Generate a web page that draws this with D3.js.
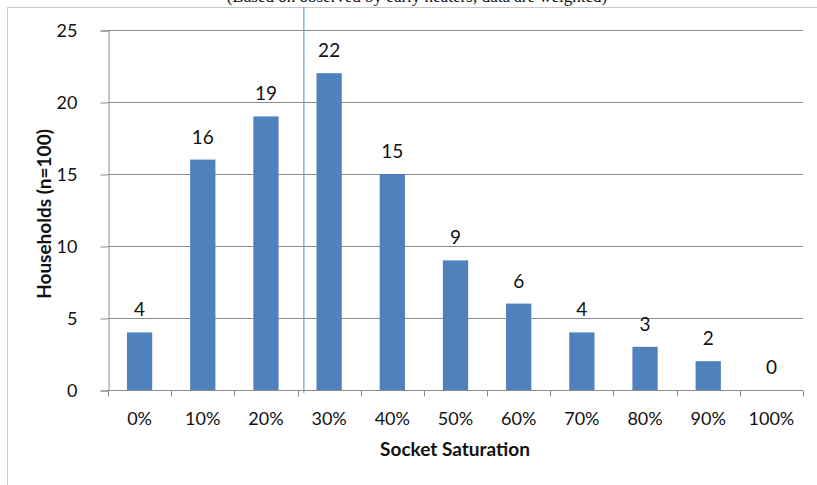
<!DOCTYPE html>
<html>
<head>
<meta charset="utf-8">
<script src="https://cdn.jsdelivr.net/npm/d3@7"></script>
<style>
  html, body { margin: 0; padding: 0; background: #fff; }
  svg { display: block; }
</style>
</head>
<body>
<svg id="chart" width="817" height="485"></svg>
<script>
// Socket saturation distribution across surveyed households
const categories = ["0%", "10%", "20%", "30%", "40%", "50%", "60%", "70%", "80%", "90%", "100%"];
const households = [4, 16, 19, 22, 15, 9, 6, 4, 3, 2, 0];
const yTicks = [0, 5, 10, 15, 20, 25];
const subtitle = "(Based on observed by early heaters; data are weighted)";
const xTitle = "Socket Saturation";
const yTitle = "Households (n=100)";
const markerAfter = "20%"; // vertical divider sits just past the 20% band

const svg = d3.select("#chart");
const plotL = 108, plotR = 803, plotT = 30, plotB = 390;
const labelFont = "Lato, 'Open Sans', sans-serif";

// Chart frame (extends past the visible area on the right and bottom)
svg.append("rect")
  .attr("x", 7.5).attr("y", 7.5)
  .attr("width", 830).attr("height", 500)
  .attr("fill", "none").attr("stroke", "#c9c9c9").attr("stroke-width", 1);

// Subtitle, mostly clipped above the frame
svg.append("text")
  .attr("x", 417).attr("y", 2)
  .attr("text-anchor", "middle")
  .attr("font-family", "'Liberation Serif', serif")
  .attr("font-size", 17)
  .attr("fill", "#111")
  .text(subtitle);

const x = d3.scaleBand().domain(categories).range([plotL, plotR]).padding(0);
const y = d3.scaleLinear().domain([0, 25]).range([plotB, plotT]);

// Horizontal gridlines
svg.append("g").selectAll("line")
  .data(yTicks.filter(d => d > 0))
  .join("line")
  .attr("x1", plotL).attr("x2", plotR)
  .attr("y1", d => Math.round(y(d)) + 0.5).attr("y2", d => Math.round(y(d)) + 0.5)
  .attr("stroke", "#8c8c8c").attr("stroke-width", 1);

// Y axis
const yAxis = svg.append("g")
  .attr("transform", `translate(${plotL + 0.5},0.5)`)
  .call(d3.axisLeft(y).tickValues(yTicks).tickSize(8).tickPadding(23));
yAxis.select(".domain").attr("stroke", "#8c8c8c");
yAxis.selectAll(".tick line").attr("stroke", "#8c8c8c");
yAxis.selectAll(".tick text")
  .attr("font-family", labelFont).attr("font-size", 18).attr("fill", "#111");

// Bars
const barW = x.bandwidth() * 0.4;
svg.append("g").selectAll("rect")
  .data(categories.map((c, i) => ({ c, v: households[i] })))
  .join("rect")
  .attr("x", d => x(d.c) + (x.bandwidth() - barW) / 2)
  .attr("y", d => y(d.v))
  .attr("width", barW)
  .attr("height", d => plotB - y(d.v))
  .attr("fill", "#4f81bd");

// X axis with ticks on band boundaries
const xg = svg.append("g").attr("transform", `translate(0,${plotB + 0.5})`);
xg.append("line")
  .attr("x1", plotL).attr("x2", plotR)
  .attr("stroke", "#8c8c8c");
xg.selectAll("line.tick")
  .data(categories.map(c => x(c)).concat([plotR]))
  .join("line")
  .attr("class", "tick")
  .attr("x1", d => Math.round(d) + 0.5).attr("x2", d => Math.round(d) + 0.5)
  .attr("y1", 0).attr("y2", 6)
  .attr("stroke", "#8c8c8c");
xg.selectAll("text")
  .data(categories)
  .join("text")
  .attr("x", d => x(d) + x.bandwidth() / 2)
  .attr("y", 34)
  .attr("text-anchor", "middle")
  .attr("font-family", labelFont).attr("font-size", 18).attr("fill", "#111")
  .text(d => d);

// Value labels
svg.append("g").selectAll("text")
  .data(categories.map((c, i) => ({ c, v: households[i] })))
  .join("text")
  .attr("x", d => x(d.c) + x.bandwidth() / 2)
  .attr("y", d => y(d.v) - 16)
  .attr("text-anchor", "middle")
  .attr("font-family", labelFont).attr("font-size", 19).attr("fill", "#111")
  .text(d => d.v);

// Vertical divider line
const divX = x(markerAfter) + x.bandwidth() * 1.1;
svg.append("line")
  .attr("x1", divX).attr("x2", divX)
  .attr("y1", 7).attr("y2", plotB + 3)
  .attr("stroke", "#6f9cc3").attr("stroke-width", 1.2);

// Axis titles
svg.append("text")
  .attr("x", 455).attr("y", 456)
  .attr("text-anchor", "middle")
  .attr("font-family", labelFont).attr("font-weight", "bold")
  .attr("font-size", 19).attr("fill", "#111")
  .text(xTitle);

svg.append("text")
  .attr("transform", "translate(51,214) rotate(-90)")
  .attr("text-anchor", "middle")
  .attr("font-family", labelFont).attr("font-weight", "bold")
  .attr("font-size", 19).attr("fill", "#111")
  .text(yTitle);
</script>
</body>
</html>
